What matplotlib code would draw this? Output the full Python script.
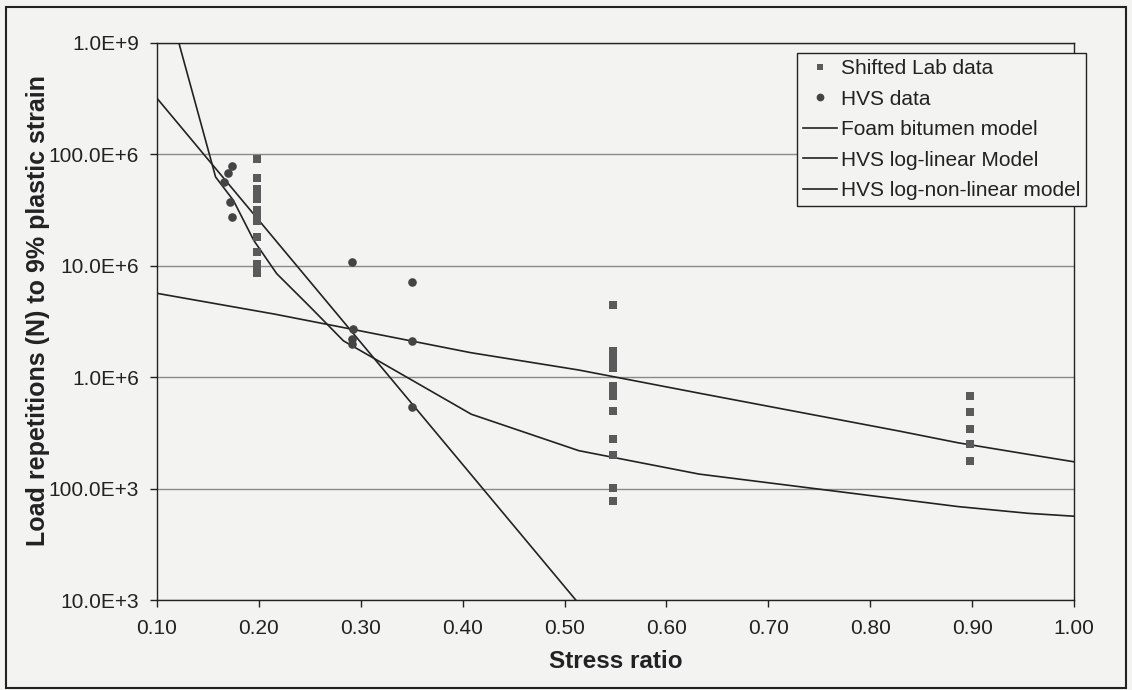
import matplotlib
matplotlib.use('Agg')
import matplotlib.pyplot as plt
from matplotlib.patches import Rectangle

# values
lab_sr = [0.198] * 13 + [0.548] * 13 + [0.898] * 5
lab_n = [91.6e6, 61.4e6, 49.2e6, 44.4e6, 39.4e6, 31.4e6, 28.3e6, 25.5e6, 18.3e6, 13.2e6, 10.4e6, 9.4e6, 8.6e6,
         4.48e6, 1.73e6, 1.50e6, 1.36e6, 1.21e6, 836e3, 753e3, 679e3, 498e3, 277e3, 200e3, 101e3, 78e3,
         679e3, 490e3, 340e3, 249e3, 177e3]

hvs_sr = [0.174, 0.170, 0.166, 0.172, 0.174, 0.291, 0.350, 0.292, 0.291, 0.291, 0.350, 0.350]
hvs_n = [78.7e6, 68.6e6, 56.5e6, 37.3e6, 27.7e6, 10.8e6, 7.1e6, 2.70e6, 2.20e6, 1.98e6, 2.12e6, 541e3]

foam_sr = [0.10, 0.215, 0.283, 0.408, 0.514, 0.632, 0.828, 0.886, 0.955, 1.00]
foam_n = [5.66e6, 3.69e6, 2.79e6, 1.66e6, 1.16e6, 719e3, 329e3, 258e3, 203e3, 174e3]

loglin_sr = [0.10, 0.511]
loglin_n = [319e6, 10e3]

nonlin_sr = [0.1215, 0.1575, 0.175, 0.195, 0.2175, 0.251, 0.283, 0.4085, 0.514, 0.632, 0.886, 0.955, 1.00]
nonlin_n = [1.0e9, 62.7e6, 38.6e6, 16.9e6, 8.5e6, 4.21e6, 2.12e6, 465e3, 219e3, 135e3, 69e3, 60e3, 56.5e3]

x_ticks = [0.1, 0.2, 0.3, 0.4, 0.5, 0.6, 0.7, 0.8, 0.9, 1.0]
x_labels = ['0.10', '0.20', '0.30', '0.40', '0.50', '0.60', '0.70', '0.80', '0.90', '1.00']
y_ticks = [1e4, 1e5, 1e6, 1e7, 1e8, 1e9]
y_labels = ['10.0E+3', '100.0E+3', '1.0E+6', '10.0E+6', '100.0E+6', '1.0E+9']

plt.rcParams['font.family'] = ['Liberation Sans', 'DejaVu Sans']
bg = '#f3f3f1'
ink = '#222222'

fig = plt.figure(figsize=(11.32, 6.90), dpi=100, facecolor=bg)
ax = fig.add_axes([157 / 1132., 1 - 600 / 690., (1074 - 157) / 1132., (600 - 43) / 690.])
ax.set_facecolor(bg)
ax.set_yscale('log')

ax.plot(lab_sr, lab_n, 's', color='#5a5a5a', markersize=5.5, markeredgewidth=0, label='Shifted Lab data', zorder=3)
ax.plot(hvs_sr, hvs_n, 'o', color='#444444', markersize=6.2, markeredgewidth=0, label='HVS data', zorder=3)
ax.plot(foam_sr, foam_n, '-', color=ink, linewidth=1.2, label='Foam bitumen model')
ax.plot(loglin_sr, loglin_n, '-', color=ink, linewidth=1.2, label='HVS log-linear Model')
ax.plot(nonlin_sr, nonlin_n, '-', color=ink, linewidth=1.2, label='HVS log-non-linear model')

ax.set_xlim(0.1, 1.0)
ax.set_ylim(1e4, 1e9)
ax.set_xticks(x_ticks)
ax.set_xticklabels(x_labels)
ax.set_yticks(y_ticks)
ax.set_yticklabels(y_labels)
ax.minorticks_off()
ax.tick_params(axis='both', labelsize=15, colors=ink, direction='out', length=5, width=1)
ax.tick_params(axis='y', pad=8)
ax.tick_params(axis='x', pad=9)

ax.yaxis.grid(True, linestyle='-', color='#8a8a8a', linewidth=1)
ax.set_axisbelow(True)
for s in ax.spines.values():
    s.set_color(ink)
    s.set_linewidth(1)

ax.set_xlabel('Stress ratio', fontsize=17.5, fontweight='bold', color=ink, labelpad=8)
fig.text(38 / 1132., 1 - 311 / 690., 'Load repetitions (N) to 9% plastic strain', rotation=90,
         fontsize=18, fontweight='bold', color=ink, ha='center', va='center')

leg = fig.legend(loc='upper left', bbox_to_anchor=(797 / 1132., 1 - 53 / 690.), bbox_transform=fig.transFigure,
                 fontsize=15, frameon=True, fancybox=False, borderpad=0.3, labelspacing=0.55,
                 handlelength=1.6, handletextpad=0.2, borderaxespad=0, markerscale=0.9)
leg.get_frame().set_edgecolor(ink)
leg.get_frame().set_facecolor(bg)
leg.get_frame().set_linewidth(1)
leg.get_frame().set_alpha(1)
for t in leg.get_texts():
    t.set_color(ink)

# scanned page frame
fig.patches.append(Rectangle((6 / 1132., 2 / 690.), 1120 / 1132., 681 / 690., transform=fig.transFigure,
                             fill=False, edgecolor=ink, linewidth=1.5))

fig.savefig('out.png', dpi=100, facecolor=bg)
